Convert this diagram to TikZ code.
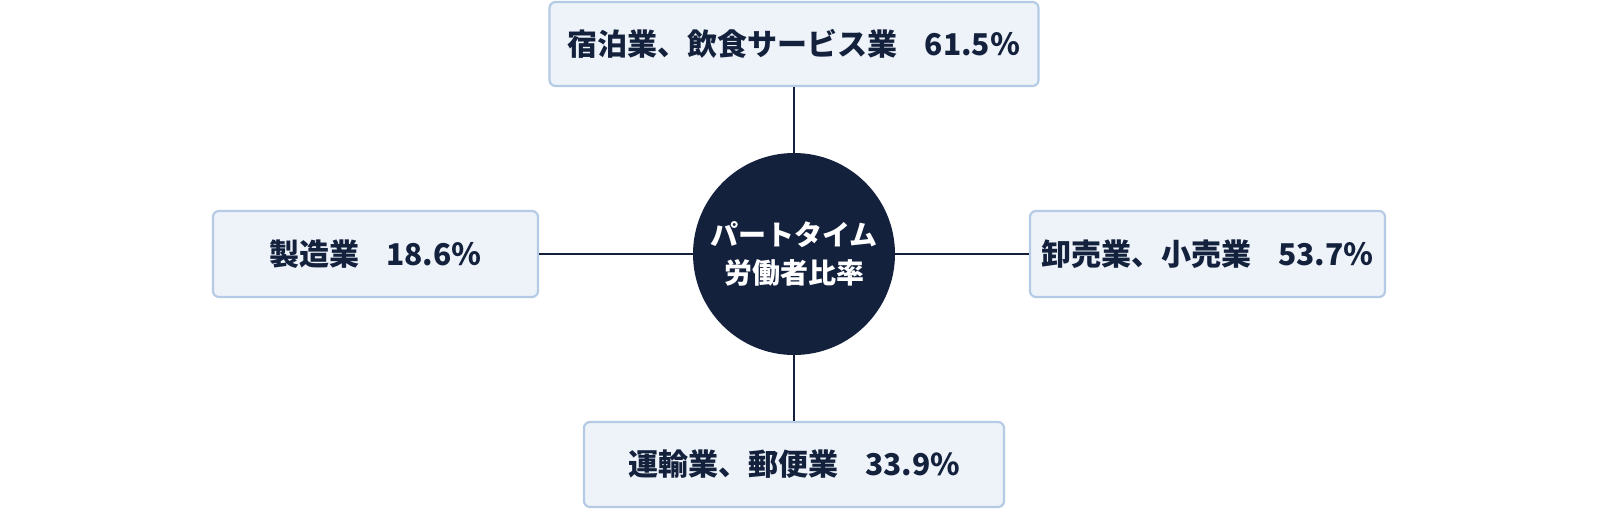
\documentclass[tikz,border=0pt]{standalone}
\usepackage{fontspec}
\newfontfamily\cjk{Noto Sans CJK JP}
\definecolor{navy}{HTML}{14213D}
\definecolor{boxfill}{HTML}{EEF3F9}
\definecolor{boxline}{HTML}{B5CBE5}
\begin{document}
\begin{tikzpicture}[x=0.5pt,y=-0.5pt,
  catbox/.style={draw=boxline, fill=boxfill, line width=1.1pt, rounded corners=3pt,
    inner sep=0pt, text=navy, font=\cjk\bfseries\fontsize{15}{18}\selectfont},
  hub/.style={circle, fill=navy, minimum size=101pt, inner sep=0pt, text=white,
    align=center, font=\cjk\bfseries\fontsize{14}{19}\selectfont},
  link/.style={draw=navy, line width=1.3pt}]
\useasboundingbox (0,0) rectangle (1600,509);
\fill[white] (0,0) rectangle (1600,509);
\node[hub] (c) at (794,254) {パートタイム\\労働者比率};
\node[catbox, minimum width=244.5pt, minimum height=42pt] (t) at (794,44) {宿泊業、飲食サービス業\hspace{0.9em}61.5％};
\node[catbox, minimum width=162.5pt, minimum height=43pt] (l) at (375.5,254) {製造業\hspace{0.9em}18.6％};
\node[catbox, minimum width=177.5pt, minimum height=43pt] (r) at (1207.5,254) {卸売業、小売業\hspace{0.9em}53.7％};
\node[catbox, minimum width=210pt, minimum height=42.5pt] (b) at (794,464.5) {運輸業、郵便業\hspace{0.9em}33.9\%};
\draw[link] (t) -- (c);
\draw[link] (l) -- (c);
\draw[link] (r) -- (c);
\draw[link] (b) -- (c);
\end{tikzpicture}
\end{document}
